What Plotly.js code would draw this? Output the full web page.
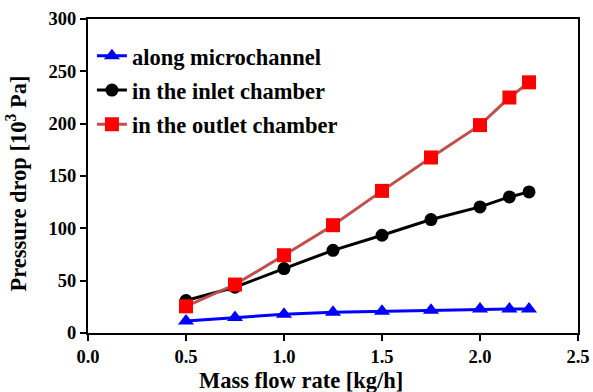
<!DOCTYPE html>
<html>
<head>
<meta charset="utf-8">
<script src="https://cdn.plot.ly/plotly-3.0.1.min.js"></script>
<style>html,body{margin:0;padding:0;background:#fff;}#chart{width:593px;height:392px;}</style>
</head>
<body>
<div id="chart"></div>
<script>
var flowRate = [0.5, 0.75, 1.0, 1.25, 1.5, 1.75, 2.0, 2.15, 2.25];
var alongMicrochannel = [11.5, 14.7, 17.9, 19.8, 20.7, 21.7, 23.0, 23.0, 23.0];
var inletChamber = [31, 43.7, 61.6, 79, 93.4, 108.4, 120.5, 130, 134.8];
var outletChamber = [25.5, 46.3, 74.3, 103, 135.8, 167.7, 198.6, 225, 239.5];
var seriesNames = ['along microchannel', 'in the inlet chamber', 'in the outlet chamber'];
var xTickVals = [0, 0.5, 1.0, 1.5, 2.0, 2.5];
var xTickText = ['0.0', '0.5', '1.0', '1.5', '2.0', '2.5'];
var yTickVals = [0, 50, 100, 150, 200, 250, 300];
var xTitle = 'Mass flow rate [kg/h]';
var yTitle = 'Pressure drop [10<sup>3</sup> Pa]';

var fontFam = 'Liberation Serif';

var traces = [
  {x: flowRate, y: alongMicrochannel, name: seriesNames[0], mode: 'lines+markers', legendgroup: 'a',
   line: {color: '#0000FF', width: 3}, marker: {symbol: 'triangle-up', size: 14, color: '#0000FF'}},
  {x: flowRate, y: inletChamber, name: seriesNames[1], mode: 'lines+markers', legendgroup: 'b',
   line: {color: '#000000', width: 3}, marker: {symbol: 'circle', size: 13, color: '#000000'}},
  {x: flowRate, y: outletChamber, name: seriesNames[2], mode: 'lines+markers', legendgroup: 'c',
   line: {color: '#C0504D', width: 3}, marker: {symbol: 'square', size: 14, color: '#FF0000'}}
];

var layout = {
  width: 593, height: 392,
  margin: {l: 88, r: 15, t: 19, b: 59},
  paper_bgcolor: '#fff', plot_bgcolor: '#fff',
  font: {family: fontFam, color: '#000', size: 17, weight: 'bold'},
  showlegend: true,
  legend: {x: 0.008, y: 0.95, xanchor: 'left', yanchor: 'top', bgcolor: 'rgba(0,0,0,0)',
           font: {family: fontFam, size: 22.5, color: '#000', weight: 'bold'}, tracegroupgap: 2,
           itemwidth: 30},
  xaxis: {range: [0, 2.5], tickvals: xTickVals, ticktext: xTickText, showgrid: false, zeroline: false,
          showline: true, linecolor: '#000', linewidth: 2, mirror: true, ticks: 'outside', ticklen: 6, tickwidth: 2,
          tickcolor: '#000', tickfont: {family: fontFam, size: 18.5, weight: 'bold', color: '#000'}},
  yaxis: {range: [0, 300], tickvals: yTickVals, showgrid: false, zeroline: false,
          showline: true, linecolor: '#000', linewidth: 2, mirror: true, ticks: 'outside', ticklen: 6, tickwidth: 2,
          tickcolor: '#000', tickfont: {family: fontFam, size: 18.5, weight: 'bold', color: '#000'}},
  annotations: [
    {text: xTitle, xref: 'paper', yref: 'paper', x: 0.4357, y: -0.15, xanchor: 'center', yanchor: 'middle',
     showarrow: false, font: {family: fontFam, size: 22.5, weight: 'bold', color: '#000'}},
    {text: yTitle, xref: 'paper', yref: 'paper', x: -0.147, y: 0.476, xanchor: 'center', yanchor: 'middle',
     textangle: -90, showarrow: false, font: {family: fontFam, size: 22.5, weight: 'bold', color: '#000'}}
  ]
};

Plotly.newPlot('chart', traces, layout, {displayModeBar: false, staticPlot: true});
</script>
</body>
</html>
